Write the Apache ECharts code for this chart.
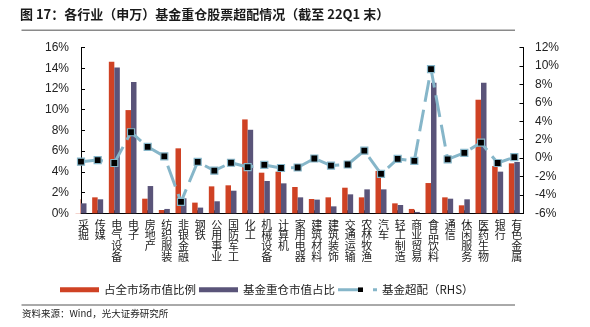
<!DOCTYPE html>
<html>
<head>
<meta charset="utf-8">
<script src="https://cdn.jsdelivr.net/npm/echarts@6/dist/echarts.min.js"></script>
<style>
  html, body { margin: 0; padding: 0; background: #fff; }
  #chart { width: 590px; height: 327px; }
</style>
</head>
<body>
<div id="chart"></div>
<script>
// SW level-1 industries
const categories = ['采掘','传媒','电气设备','电子','房地产','纺织服装','非银金融','钢铁','公用事业','国防军工','化工','机械设备','计算机','家用电器','建筑材料','建筑装饰','交通运输','农林牧渔','汽车','轻工制造','商业贸易','食品饮料','通信','休闲服务','医药生物','银行','有色金属'];

// share of total market cap (%)
const marketShare = [1.36, 1.54, 14.62, 9.96, 1.41, 0.32, 6.27, 1.03, 2.60, 2.70, 9.06, 3.92, 4.02, 2.54, 1.38, 1.54, 2.47, 1.54, 4.08, 0.96, 0.42, 2.92, 1.54, 0.77, 10.96, 4.56, 4.82];

// share of fund heavy-holding market value (%)
const fundShare = [0.96, 1.35, 14.07, 12.66, 2.63, 0.42, 1.45, 0.55, 1.16, 2.18, 8.06, 3.12, 2.89, 1.54, 1.32, 0.67, 1.83, 2.31, 2.31, 0.80, 0.13, 12.59, 1.41, 1.35, 12.59, 4.02, 4.95];

// fund overweight (%), right-hand scale
const overweight = [-0.40, -0.22, -0.54, 2.80, 1.22, 0.18, -4.76, -0.42, -1.37, -0.51, -0.98, -0.75, -1.08, -1.03, -0.05, -0.82, -0.70, 0.80, -1.73, -0.10, -0.31, 9.66, -0.14, 0.57, 1.67, -0.54, 0.09];

// axis ticks
const leftTicks = { min: 0, max: 16, step: 2 };
const rightTicks = { min: -6, max: 12, step: 2 };

const RED = '#cf4224';
const PURPLE = '#5a5479';
const LINE_BLUE = '#86b6c9';
const FONT = '"Liberation Sans", "Noto Sans CJK SC", sans-serif';
const CJK = '"Noto Sans CJK SC", "Liberation Sans", sans-serif';

const GRID = { left: 81, right: 66.5, top: 47.5, bottom: 113.7 };

const toPoints = arr => arr.map((v, i) => [i, v]);

// legend glyph for the overweight line: solid run, black square marker, short dash
const lineIconSvg =
  '<svg xmlns="http://www.w3.org/2000/svg" width="39" height="5" viewBox="0 0 39 5">' +
  '<line x1="0" y1="2.5" x2="21" y2="2.5" stroke="' + LINE_BLUE + '" stroke-width="3"/>' +
  '<rect x="20" y="0" width="5" height="5" fill="#000"/>' +
  '<line x1="35" y1="2.5" x2="39" y2="2.5" stroke="' + LINE_BLUE + '" stroke-width="3"/>' +
  '</svg>';
const lineIcon = 'image://data:image/svg+xml;charset=utf-8,' + encodeURIComponent(lineIconSvg);

const chart = echarts.init(document.getElementById('chart'), null, { renderer: 'canvas' });

chart.setOption({
  animation: false,
  backgroundColor: '#fff',
  title: {
    text: '图 17：各行业（申万）基金重仓股票超配情况（截至 22Q1 末）',
    left: 20,
    top: 8,
    padding: 0,
    textStyle: { fontFamily: CJK, fontSize: 13, fontWeight: 'bold', color: '#1a1a1a' }
  },
  graphic: [
    { type: 'line', shape: { x1: 21.5, y1: 30.2, x2: 515, y2: 30.2 }, style: { stroke: '#8a8a8a', lineWidth: 1.5 } },
    { type: 'line', shape: { x1: 21.5, y1: 305, x2: 515, y2: 305 }, style: { stroke: '#555', lineWidth: 1 } },
    {
      type: 'text', left: 22, top: 309,
      style: { text: '资料来源：Wind，光大证券研究所', font: '9.5px "Noto Sans CJK SC", sans-serif', fill: '#222' }
    },
    // plot-area edge: bars are cut off at the left value axis
    {
      type: 'rect', z: 3, silent: true,
      shape: { x: GRID.left - 11, y: GRID.top, width: 10.5, height: 327 - GRID.top - GRID.bottom },
      style: { fill: '#fff' }
    }
  ],
  legend: {
    left: 60,
    top: 284,
    padding: 0,
    itemGap: 3,
    itemWidth: 39,
    itemHeight: 5,
    symbolKeepAspect: false,
    textStyle: { fontFamily: CJK, fontSize: 11.5, color: '#222' },
    data: [
      { name: '占全市场市值比例', icon: 'rect' },
      { name: '基金重仓市值占比', icon: 'rect' },
      { name: '基金超配（RHS）', icon: lineIcon }
    ]
  },
  grid: GRID,
  xAxis: {
    type: 'value',
    min: 0,
    max: 26.55,
    interval: 1,
    axisLine: { show: true, onZero: false, lineStyle: { color: '#000', width: 1 } },
    axisTick: { show: true, inside: true, length: 3, lineStyle: { color: '#000' } },
    splitLine: { show: false },
    axisLabel: {
      margin: 6,
      verticalAlign: 'top',
      fontFamily: CJK,
      fontSize: 11,
      lineHeight: 10.6,
      color: '#222',
      padding: [0, 0, 0, 5],
      formatter: v => (Number.isInteger(v) && categories[v]) ? categories[v].split('').join('\n') : ''
    }
  },
  yAxis: [
    {
      type: 'value', position: 'left',
      min: leftTicks.min, max: leftTicks.max, interval: leftTicks.step,
      axisLine: { show: true, onZero: false, lineStyle: { color: '#000', width: 1 } },
      axisTick: { show: true, inside: true, length: 4, lineStyle: { color: '#000' } },
      splitLine: { show: false },
      axisLabel: { margin: 12, fontFamily: FONT, fontSize: 12, color: '#222', formatter: v => v + '%' }
    },
    {
      type: 'value', position: 'right',
      min: rightTicks.min, max: rightTicks.max, interval: rightTicks.step,
      axisLine: { show: true, onZero: false, lineStyle: { color: '#000', width: 1 } },
      axisTick: { show: true, inside: true, length: 4, lineStyle: { color: '#000' } },
      splitLine: { show: false },
      axisLabel: { margin: 11.5, fontFamily: FONT, fontSize: 12, color: '#222', formatter: v => v + '%' }
    }
  ],
  series: [
    {
      name: '占全市场市值比例',
      type: 'bar',
      yAxisIndex: 0,
      barWidth: 5.5,
      barGap: '0%',
      itemStyle: { color: RED },
      data: toPoints(marketShare)
    },
    {
      name: '基金重仓市值占比',
      type: 'bar',
      yAxisIndex: 0,
      barWidth: 5.5,
      barGap: '0%',
      itemStyle: { color: PURPLE },
      data: toPoints(fundShare)
    },
    {
      name: '基金超配（RHS）',
      type: 'line',
      yAxisIndex: 1,
      symbol: 'rect',
      symbolSize: 7,
      itemStyle: { color: '#000', borderColor: LINE_BLUE, borderWidth: 1.2 },
      lineStyle: { color: LINE_BLUE, width: 3, type: [22, 8] },
      z: 5,
      data: toPoints(overweight)
    }
  ]
});
</script>
</body>
</html>
